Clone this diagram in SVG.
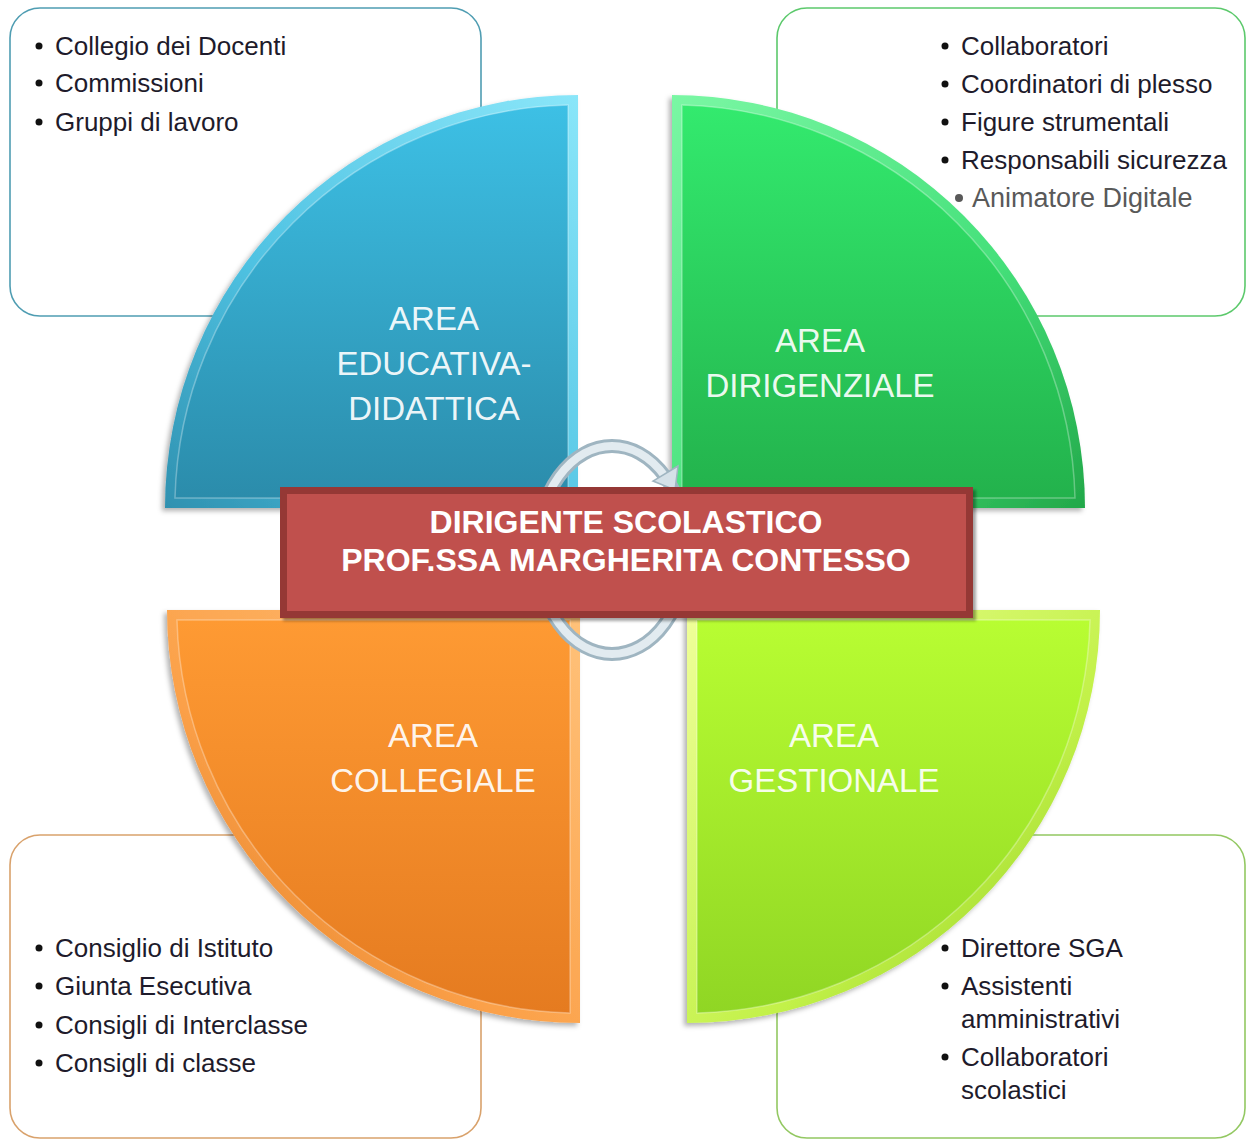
<svg xmlns="http://www.w3.org/2000/svg" width="1247" height="1140" viewBox="0 0 1247 1140">
<defs>
<style>
.box{fill:#ffffff;stroke-width:1.6}
.lst{font-family:"Liberation Sans",Arial,sans-serif;font-size:26px;fill:#1e1b2b}
.lbl{font-family:"Liberation Sans",Arial,sans-serif;font-size:33px;fill:#ffffff;fill-opacity:0.93;text-anchor:middle}
.ttl{font-family:"Liberation Sans",Arial,sans-serif;font-size:32px;font-weight:bold;fill:#ffffff;text-anchor:middle}
.bul{fill:#111111}
.hl{fill:none;stroke:#ffffff;stroke-opacity:0.3;stroke-width:1.5}
</style>
<filter id="qs" x="-10%" y="-10%" width="120%" height="120%">
<feDropShadow dx="-3" dy="3" stdDeviation="2.5" flood-color="#000000" flood-opacity="0.3"/>
</filter>
<filter id="bs" x="-5%" y="-10%" width="110%" height="125%">
<feDropShadow dx="3" dy="3" stdDeviation="1.5" flood-color="#000000" flood-opacity="0.35"/>
</filter>
<linearGradient id="blueRim" x1="1" y1="0" x2="0" y2="1"><stop offset="0" stop-color="#8ae6f9"/><stop offset="0.6" stop-color="#4fc2e2"/><stop offset="1" stop-color="#2f91b0"/></linearGradient>
<linearGradient id="blueFace" x1="0" y1="0" x2="0" y2="1"><stop offset="0" stop-color="#3dc0e5"/><stop offset="1" stop-color="#2b8cab"/></linearGradient>
<linearGradient id="greenRim" x1="0" y1="0" x2="1" y2="1"><stop offset="0" stop-color="#7af7a4"/><stop offset="0.6" stop-color="#45e07a"/><stop offset="1" stop-color="#22a849"/></linearGradient>
<linearGradient id="greenFace" x1="0" y1="0" x2="0" y2="1"><stop offset="0" stop-color="#33ea6e"/><stop offset="1" stop-color="#23b24c"/></linearGradient>
<linearGradient id="orangeRim" x1="1" y1="0" x2="0" y2="1"><stop offset="0" stop-color="#ffc27a"/><stop offset="0.6" stop-color="#fba048"/><stop offset="1" stop-color="#d8741e"/></linearGradient>
<linearGradient id="orangeFace" x1="0" y1="0" x2="0" y2="1"><stop offset="0" stop-color="#fe9a33"/><stop offset="1" stop-color="#e57b20"/></linearGradient>
<linearGradient id="limeRim" x1="0" y1="0" x2="1" y2="1"><stop offset="0" stop-color="#f0ff9a"/><stop offset="0.6" stop-color="#c2f148"/><stop offset="1" stop-color="#86c61e"/></linearGradient>
<linearGradient id="limeFace" x1="0" y1="0" x2="0" y2="1"><stop offset="0" stop-color="#b8fd32"/><stop offset="1" stop-color="#90d624"/></linearGradient>
</defs>
<rect width="1247" height="1140" fill="#ffffff"/>

<g id="box-educativa">
<rect class="box" x="10" y="8" width="471" height="308" rx="30" stroke="#4f9db2"/>
</g>
<g id="box-dirigenziale">
<rect class="box" x="777" y="8" width="468" height="308" rx="30" stroke="#5cc96c"/>
</g>
<g id="box-collegiale">
<rect class="box" x="10" y="835" width="471" height="303" rx="30" stroke="#d9a26c"/>
</g>
<g id="box-gestionale">
<rect class="box" x="777" y="835" width="468" height="303" rx="30" stroke="#93c862"/>
</g>

<g id="area-educativa">
<path d="M578,508 L165,508 A413,413 0 0 1 578,95 Z" fill="url(#blueRim)" filter="url(#qs)"/>
<path d="M568,498 L175,498 A403,403 0 0 1 568,105 Z" fill="url(#blueFace)"/>
<path class="hl" d="M568,498 L175,498 A403,403 0 0 1 568,105 Z"/>
<text class="lbl" x="434" y="330">AREA</text>
<text class="lbl" x="434" y="375">EDUCATIVA-</text>
<text class="lbl" x="434" y="420">DIDATTICA</text>
</g>
<g id="area-dirigenziale">
<path d="M672,508 L672,95 A413,413 0 0 1 1085,508 Z" fill="url(#greenRim)" filter="url(#qs)"/>
<path d="M682,498 L682,105 A403,403 0 0 1 1075,498 Z" fill="url(#greenFace)"/>
<path class="hl" d="M682,498 L682,105 A403,403 0 0 1 1075,498 Z"/>
<text class="lbl" x="820" y="352">AREA</text>
<text class="lbl" x="820" y="397">DIRIGENZIALE</text>
</g>
<g id="area-collegiale">
<path d="M580,610 L580,1023 A413,413 0 0 1 167,610 Z" fill="url(#orangeRim)" filter="url(#qs)"/>
<path d="M570,620 L570,1013 A403,403 0 0 1 177,620 Z" fill="url(#orangeFace)"/>
<path class="hl" d="M570,620 L570,1013 A403,403 0 0 1 177,620 Z"/>
<text class="lbl" x="433" y="747">AREA</text>
<text class="lbl" x="433" y="792">COLLEGIALE</text>
</g>
<g id="area-gestionale">
<path d="M687,610 L1100,610 A413,413 0 0 1 687,1023 Z" fill="url(#limeRim)" filter="url(#qs)"/>
<path d="M697,620 L1090,620 A403,403 0 0 1 697,1013 Z" fill="url(#limeFace)"/>
<path class="hl" d="M697,620 L1090,620 A403,403 0 0 1 697,1013 Z"/>
<text class="lbl" x="834" y="747">AREA</text>
<text class="lbl" x="834" y="792">GESTIONALE</text>
</g>

<g id="connectors">
<ellipse cx="612" cy="550" rx="75" ry="104" fill="none" stroke="#9fb5c1" stroke-width="14"/>
<ellipse cx="612" cy="550" rx="75" ry="104" fill="none" stroke="#e2ebf0" stroke-width="8"/>
<polygon points="678,466 653,481 675,490" fill="#d5e1e8" stroke="#9fb5c1" stroke-width="1.5"/>
</g>

<g id="dirigente">
<rect x="280" y="487" width="693" height="131" fill="#953735" filter="url(#bs)"/>
<rect x="287" y="494" width="679" height="117" fill="#c0504d"/>
<text class="ttl" x="626" y="533">DIRIGENTE SCOLASTICO</text>
<text class="ttl" x="626" y="571">PROF.SSA MARGHERITA CONTESSO</text>
</g>

<g id="list-educativa">
<circle class="bul" cx="39" cy="46" r="3.5"/><text class="lst" x="55" y="55">Collegio dei Docenti</text>
<circle class="bul" cx="39" cy="83" r="3.5"/><text class="lst" x="55" y="92">Commissioni</text>
<circle class="bul" cx="39" cy="122" r="3.5"/><text class="lst" x="55" y="131">Gruppi di lavoro</text>
</g>
<g id="list-dirigenziale">
<circle class="bul" cx="945" cy="46" r="3.5"/><text class="lst" x="961" y="55">Collaboratori</text>
<circle class="bul" cx="945" cy="84" r="3.5"/><text class="lst" x="961" y="93">Coordinatori di plesso</text>
<circle class="bul" cx="945" cy="122" r="3.5"/><text class="lst" x="961" y="131">Figure strumentali</text>
<circle class="bul" cx="945" cy="160" r="3.5"/><text class="lst" x="961" y="169">Responsabili sicurezza</text>
<circle cx="959" cy="198" r="4" fill="#595959"/><text class="lst" x="972" y="207" style="font-size:27px;fill:#595959">Animatore Digitale</text>
</g>
<g id="list-collegiale">
<circle class="bul" cx="39" cy="948" r="3.5"/><text class="lst" x="55" y="957">Consiglio di Istituto</text>
<circle class="bul" cx="39" cy="986" r="3.5"/><text class="lst" x="55" y="995">Giunta Esecutiva</text>
<circle class="bul" cx="39" cy="1025" r="3.5"/><text class="lst" x="55" y="1034">Consigli di Interclasse</text>
<circle class="bul" cx="39" cy="1063" r="3.5"/><text class="lst" x="55" y="1072">Consigli di classe</text>
</g>
<g id="list-gestionale">
<circle class="bul" cx="945" cy="948" r="3.5"/><text class="lst" x="961" y="957">Direttore SGA</text>
<circle class="bul" cx="945" cy="986" r="3.5"/><text class="lst" x="961" y="995">Assistenti</text>
<text class="lst" x="961" y="1028">amministrativi</text>
<circle class="bul" cx="945" cy="1057" r="3.5"/><text class="lst" x="961" y="1066">Collaboratori</text>
<text class="lst" x="961" y="1099">scolastici</text>
</g>
</svg>
